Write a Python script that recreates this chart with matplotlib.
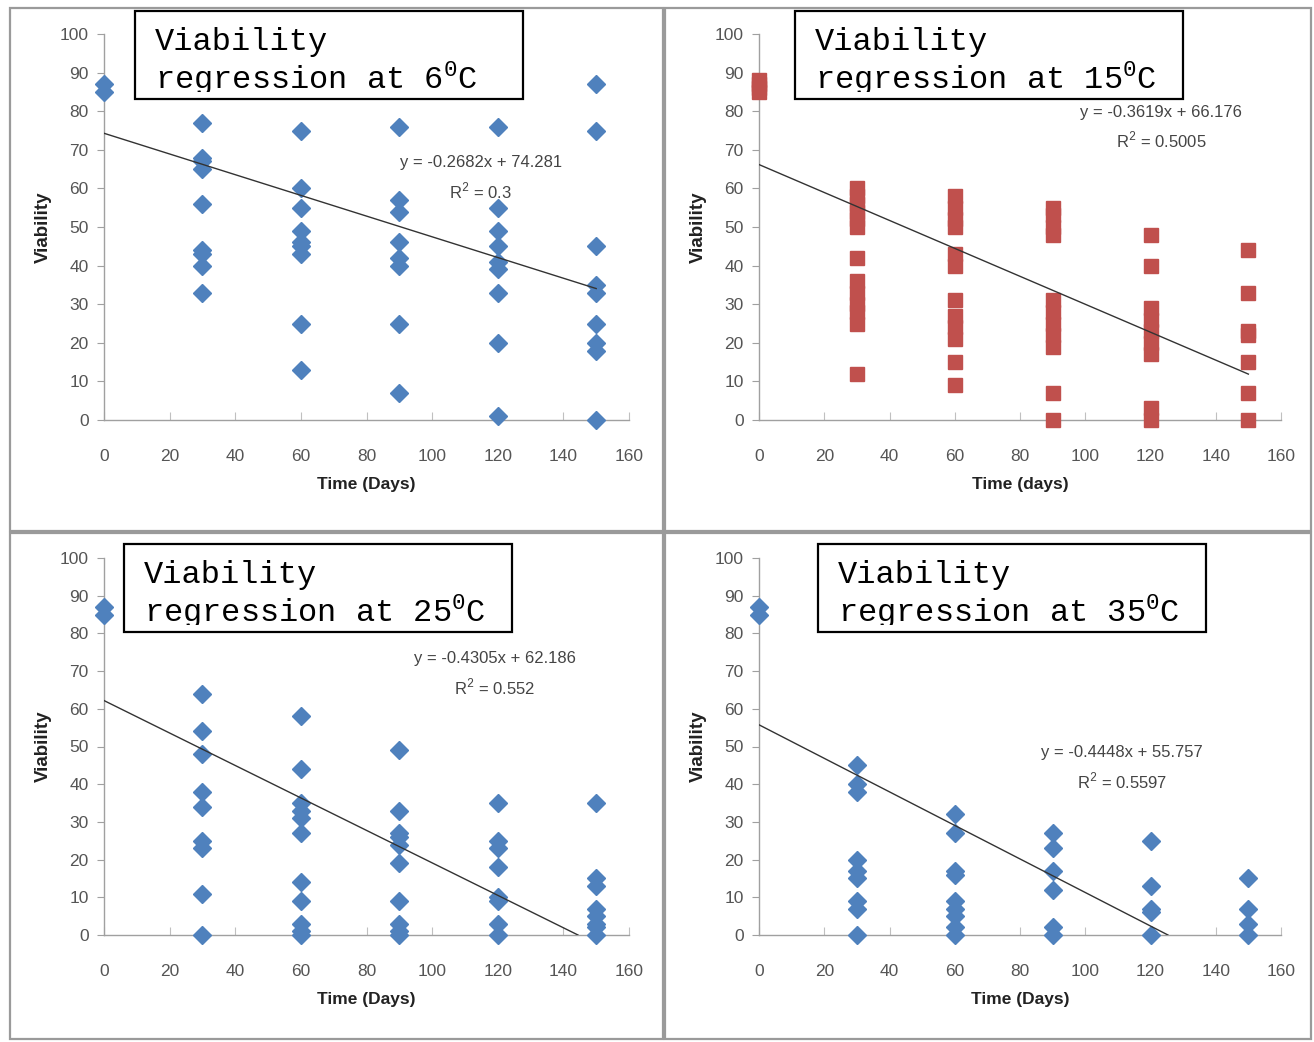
import matplotlib
matplotlib.use('Agg')
import matplotlib.pyplot as plt
import numpy as np
from matplotlib.patches import Rectangle

plt.rcParams['mathtext.fontset'] = 'custom'
plt.rcParams['mathtext.rm'] = 'Liberation Mono'

NARROW = ['Liberation Sans Narrow', 'Liberation Sans', 'DejaVu Sans']
MONO = ['Liberation Mono', 'DejaVu Sans Mono']

# viability readings per sampling day
days_6 = [0, 0, 30, 30, 30, 30, 30, 30, 30, 30, 30,
          60, 60, 60, 60, 60, 60, 60, 60, 60,
          90, 90, 90, 90, 90, 90, 90, 90,
          120, 120, 120, 120, 120, 120, 120, 120, 120,
          150, 150, 150, 150, 150, 150, 150, 150, 150]
viab_6 = [87, 85, 77, 68, 67, 65, 56, 44, 43, 40, 33,
          75, 60, 55, 49, 46, 45, 43, 25, 13,
          76, 57, 54, 46, 42, 40, 25, 7,
          76, 55, 49, 45, 41, 39, 33, 20, 1,
          87, 75, 45, 35, 33, 25, 20, 18, 0]

days_15 = [0, 0, 0, 0,
           30, 30, 30, 30, 30, 30, 30, 30, 30, 30, 30, 30, 30,
           60, 60, 60, 60, 60, 60, 60, 60, 60, 60, 60, 60,
           90, 90, 90, 90, 90, 90, 90, 90, 90, 90, 90,
           120, 120, 120, 120, 120, 120, 120, 120, 120,
           150, 150, 150, 150, 150, 150, 150]
viab_15 = [85, 86, 87, 88,
           50, 52, 54, 56, 58, 60, 42, 25, 28, 30, 33, 36, 12,
           50, 52, 55, 58, 43, 40, 21, 24, 27, 31, 15, 9,
           48, 50, 53, 55, 19, 22, 25, 28, 31, 7, 0,
           48, 40, 17, 20, 23, 26, 29, 0, 3,
           44, 33, 22, 23, 15, 7, 0]

days_25 = [0, 0, 30, 30, 30, 30, 30, 30, 30, 30, 30,
           60, 60, 60, 60, 60, 60, 60, 60, 60, 60, 60,
           90, 90, 90, 90, 90, 90, 90, 90, 90, 90,
           120, 120, 120, 120, 120, 120, 120, 120,
           150, 150, 150, 150, 150, 150, 150, 150]
viab_25 = [87, 85, 64, 54, 48, 38, 34, 25, 23, 11, 0,
           58, 44, 35, 33, 31, 27, 14, 9, 3, 1, 0,
           49, 33, 27, 26, 24, 19, 9, 3, 1, 0,
           35, 25, 23, 18, 10, 9, 3, 0,
           35, 15, 13, 7, 5, 3, 2, 0]

days_35 = [0, 0, 30, 30, 30, 30, 30, 30, 30, 30, 30,
           60, 60, 60, 60, 60, 60, 60, 60, 60,
           90, 90, 90, 90, 90, 90,
           120, 120, 120, 120, 120,
           150, 150, 150, 150]
viab_35 = [87, 85, 45, 40, 38, 20, 17, 15, 9, 7, 0,
           32, 27, 17, 16, 9, 7, 5, 2, 0,
           27, 23, 17, 12, 2, 0,
           25, 13, 7, 6, 0,
           15, 7, 3, 0]

slopes = [-0.2682, -0.3619, -0.4305, -0.4448]
intercepts = [74.281, 66.176, 62.186, 55.757]
r2_labels = ['0.3', '0.5005', '0.552', '0.5597']
temps = ['6', '15', '25', '35']
xlabels = ['Time (Days)', 'Time (days)', 'Time (Days)', 'Time (Days)']

W, H = 1314, 1042
fig = plt.figure(figsize=(W / 100, H / 100), dpi=100)
fig.patch.set_facecolor('white')


def fx(px):
    return px / W


def fy(py):
    return 1 - py / H


# panel frames (pixels: left, top, right, bottom)
frames = [(10, 8, 663, 531), (665, 8, 1311, 531),
          (10, 533, 663, 1039), (665, 533, 1311, 1039)]
for l, t, r, b in frames:
    fig.patches.append(Rectangle((fx(l), fy(b)), fx(r - l), (b - t) / H,
                                 transform=fig.transFigure, fill=False,
                                 edgecolor='#9a9a9a', linewidth=1.6))

# plot areas (pixels: x0, y_top, x1, y_bottom)
areas = [(104, 34, 629, 420), (759, 34, 1281, 420),
         (104, 558, 629, 935), (759, 558, 1281, 935)]
# title boxes (pixels: left, top, right, bottom)
boxes = [(135, 11, 523, 99), (795, 11, 1183, 99),
         (124, 544, 512, 632), (818, 544, 1206, 632)]
# equation label centres (pixels)
eq_pos = [(481, 163), (1161, 112), (495, 659), (1122, 753)]

series = [(days_6, viab_6), (days_15, viab_15),
          (days_25, viab_25), (days_35, viab_35)]

for i in range(4):
    x0, yt, x1, yb = areas[i]
    ax = fig.add_axes([fx(x0), fy(yb), fx(x1 - x0), (yb - yt) / H])
    ax.set_xlim(0, 160)
    ax.set_ylim(0, 100)
    ax.set_xticks(np.arange(0, 161, 20))
    ax.set_yticks(np.arange(0, 101, 10))
    for s in ['top', 'right']:
        ax.spines[s].set_visible(False)
    for s in ['left', 'bottom']:
        ax.spines[s].set_color('#a0a0a0')
        ax.spines[s].set_linewidth(1.0)
    ax.tick_params(axis='y', direction='out', length=5, color='#a0a0a0',
                   labelcolor='#555555', labelsize=12.5, pad=6)
    ax.tick_params(axis='x', direction='in', length=6, color='#c0c0c0',
                   labelcolor='#555555', labelsize=12.5, pad=21)
    for lab in ax.get_xticklabels() + ax.get_yticklabels():
        lab.set_family(NARROW)

    xs, ys = series[i]
    if i == 1:
        ax.plot(xs, ys, linestyle='none', marker='s', markersize=10.5,
                color='#c0504d', clip_on=False, zorder=3)
    else:
        ax.plot(xs, ys, linestyle='none', marker='D', markersize=9,
                color='#4f81bd', clip_on=False, zorder=3)

    # trend line, stopped where it meets zero
    x_end = min(150, -intercepts[i] / slopes[i])
    xl = np.array([0, x_end])
    ax.plot(xl, slopes[i] * xl + intercepts[i], color='#333333',
            linewidth=1.0, zorder=4)

    ax.set_xlabel(xlabels[i], family=NARROW, fontsize=12.5, fontweight='bold',
                  color='#222222', labelpad=9)
    ax.set_ylabel('Viability', family=NARROW, fontsize=13.5, fontweight='bold',
                  color='#222222', labelpad=6)

    ex, ey = eq_pos[i]
    fig.text(fx(ex), fy(ey), 'y = %.4fx + %.3f' % (slopes[i], intercepts[i]),
             family=NARROW, fontsize=12, color='#444444',
             ha='center', va='center')
    fig.text(fx(ex), fy(ey + 28), 'R$^{2}$ = ' + r2_labels[i],
             family=NARROW, fontsize=12, color='#444444',
             ha='center', va='center')

    # boxed title; text is cut off just under the second baseline
    bl, bt, br, bb = boxes[i]
    rect = Rectangle((fx(bl), fy(bb)), fx(br - bl), (bb - bt) / H,
                     transform=fig.transFigure, facecolor='white',
                     edgecolor='black', linewidth=1.6, zorder=10)
    fig.patches.append(rect)
    inner = Rectangle((fx(bl), fy(bb - 7)), fx(br - bl), (bb - 7 - bt) / H,
                      transform=fig.transFigure)
    t1 = fig.text(fx(bl + 20), fy(bt + 39), 'Viability', family=MONO,
                  fontsize=23, color='black', ha='left', va='baseline',
                  zorder=11)
    t2 = fig.text(fx(bl + 20), fy(bt + 78),
                  'regression at ' + temps[i] + r'$^{\mathrm{0}}$C',
                  family=MONO, fontsize=23, color='black', ha='left',
                  va='baseline', zorder=11)
    for t in (t1, t2):
        t.set_clip_path(inner)

fig.savefig('out.png', dpi=100, facecolor='white')
